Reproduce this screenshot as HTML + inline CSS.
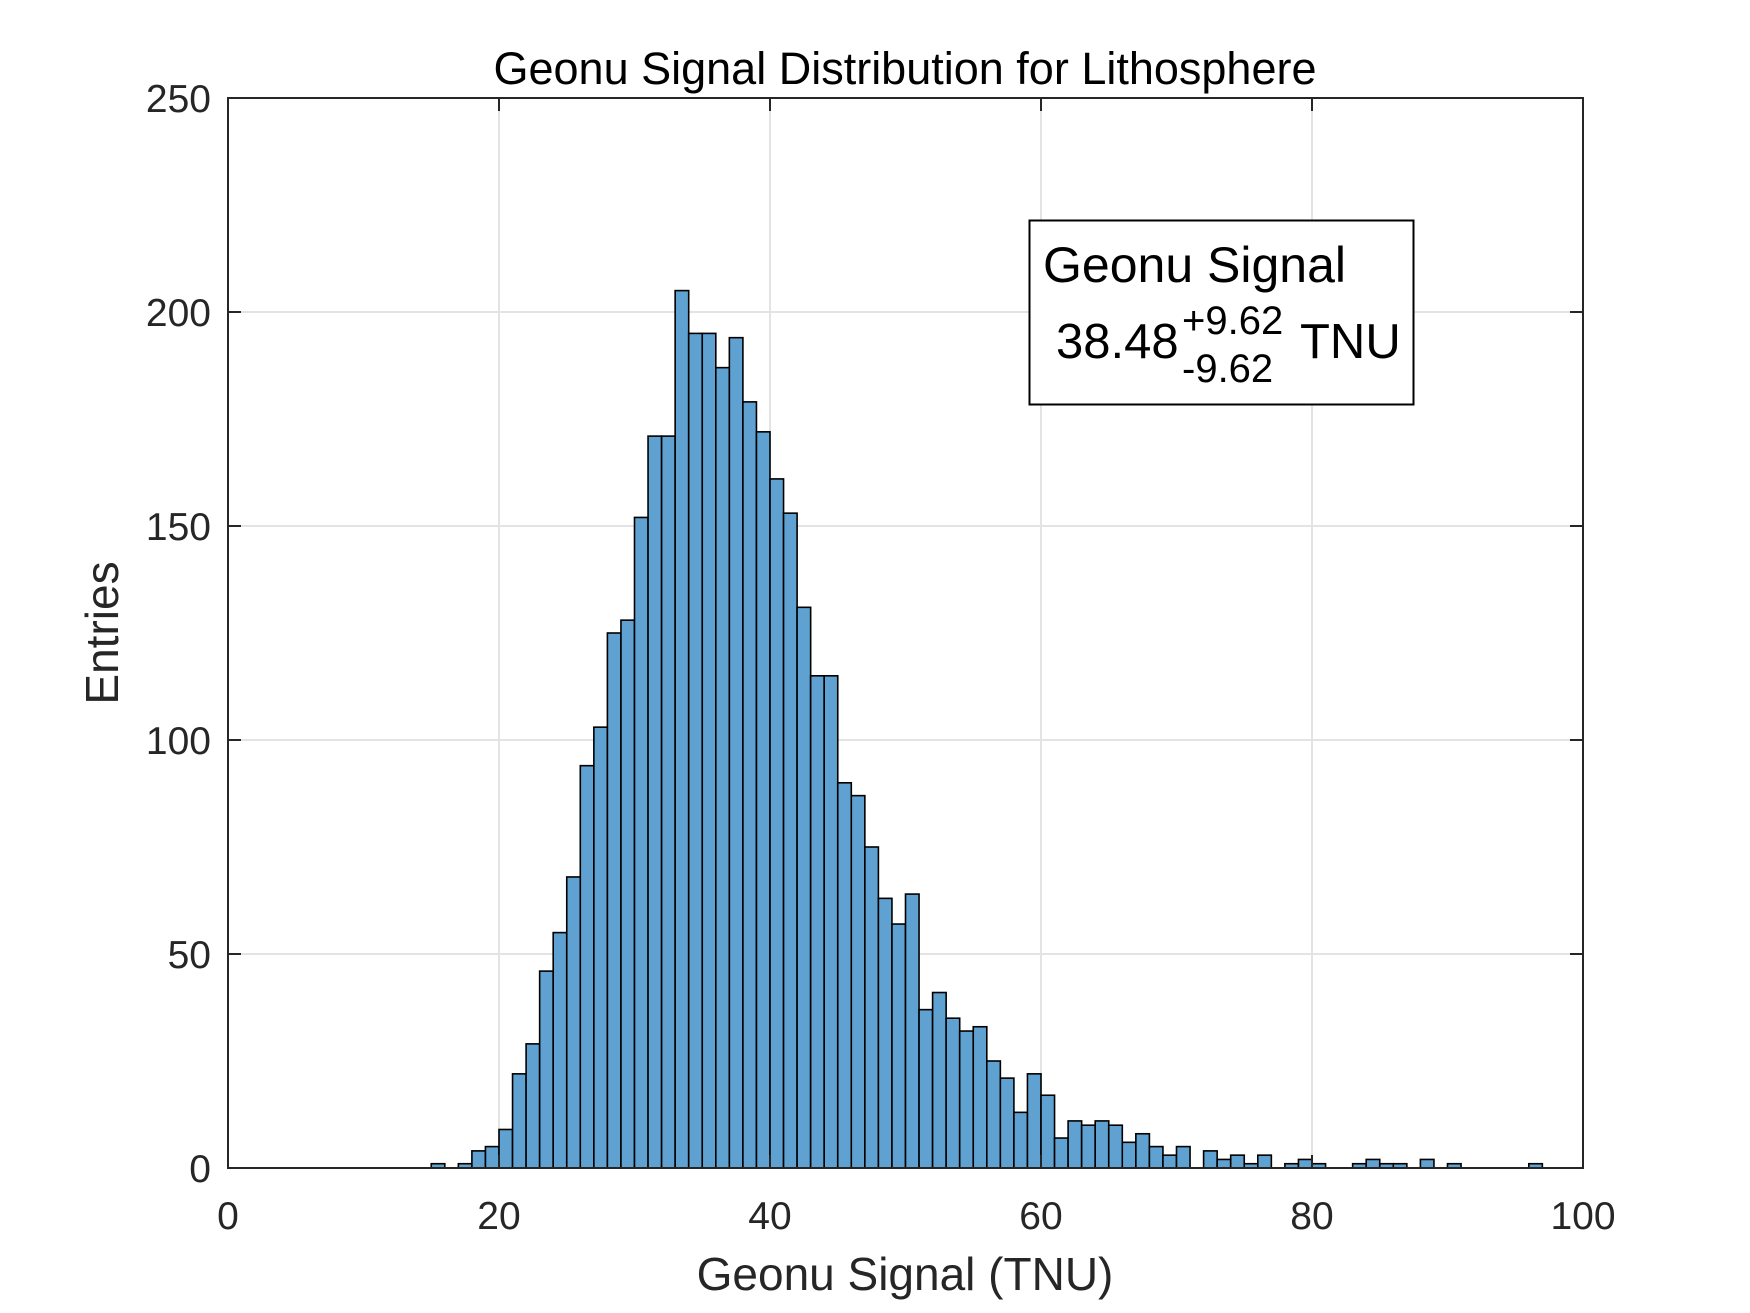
<!DOCTYPE html>
<html><head><meta charset="utf-8"><style>
html,body{margin:0;padding:0;background:#fff;}
svg{display:block;font-family:"Liberation Sans",Arial,sans-serif;}
</style></head><body>
<svg id="chart" width="1750" height="1313" viewBox="0 0 1750 1313" xmlns="http://www.w3.org/2000/svg">
<rect width="1750" height="1313" fill="#fff"/>
<g id="grid"></g>
<g id="bars"></g>
<g id="axes"></g>
<text x="905" y="84" font-size="45" text-anchor="middle" fill="#000">Geonu Signal Distribution for Lithosphere</text>
<text x="905" y="1290" font-size="46" text-anchor="middle" fill="#262626">Geonu Signal (TNU)</text>
<text transform="translate(118,633) rotate(-90)" font-size="46" text-anchor="middle" fill="#262626">Entries</text>
<g>
<rect x="1029.5" y="220.5" width="384" height="184" fill="#fff" stroke="#000" stroke-width="2"/>
<text x="1043" y="282" font-size="50" fill="#000">Geonu Signal</text>
<text x="1056" y="358" font-size="49" fill="#000">38.48</text>
<text x="1182" y="334" font-size="40" fill="#000">+9.62</text>
<text x="1182" y="382" font-size="40" fill="#000">-9.62</text>
<text x="1300" y="358" font-size="49" fill="#000">TNU</text>
</g>
</svg>
<script>
const binStart = 15;
const binWidth = 1;
const counts = [1,0,1,4,5,9,22,29,46,55,68,94,103,125,128,152,171,171,205,195,195,187,194,179,172,161,153,131,115,115,90,87,75,63,57,64,37,41,35,32,33,25,21,13,22,17,7,11,10,11,10,6,8,5,3,5,0,4,2,3,1,3,0,1,2,1,0,0,1,2,1,1,0,2,0,1,0,0,0,0,0,1];
const xTicks = [0,20,40,60,80,100];
const yTicks = [0,50,100,150,200,250];

const L=228,R=1583,T=98,B=1168;
const xMin=0,xMax=100,yMin=0,yMax=250;
const xs=v=>L+(v-xMin)/(xMax-xMin)*(R-L);
const ys=v=>B-(v-yMin)/(yMax-yMin)*(B-T);
const NS='http://www.w3.org/2000/svg';
function mk(tag,attrs,parent){const e=document.createElementNS(NS,tag);for(const k in attrs)e.setAttribute(k,attrs[k]);parent.appendChild(e);return e;}
const grid=document.getElementById('grid'),bars=document.getElementById('bars'),axes=document.getElementById('axes');

xTicks.forEach(t=>{
  const g=mk('line',{x1:xs(t),x2:xs(t),y1:T,y2:B,stroke:'#e3e3e3','stroke-width':2},grid);
  
  
});
yTicks.forEach(t=>{
  const g=mk('line',{x1:L,x2:R,y1:ys(t),y2:ys(t),stroke:'#e3e3e3','stroke-width':2},grid);
  
  
});

counts.forEach((c,i)=>{
  const x0=binStart+i*binWidth;
  if(c<=0){
    const ln=mk('line',{x1:xs(x0),x2:xs(x0+binWidth),y1:B,y2:B,stroke:'#000','stroke-width':1.6},bars);
    
    
    return;
  }
  const r=mk('rect',{x:xs(x0),y:ys(c),width:xs(x0+binWidth)-xs(x0),height:B-ys(c),fill:'#5fa2d1',stroke:'#000','stroke-width':1.6},bars);
  
  
});

const frame=mk('rect',{x:L,y:T,width:R-L,height:B-T,fill:'none',stroke:'#262626','stroke-width':2},axes);



xTicks.forEach(t=>{
  mk('line',{x1:xs(t),x2:xs(t),y1:B,y2:B-13,stroke:'#262626','stroke-width':2},axes);
  mk('line',{x1:xs(t),x2:xs(t),y1:T,y2:T+13,stroke:'#262626','stroke-width':2},axes);
  const tx=mk('text',{x:xs(t),y:1229,'font-size':39,'text-anchor':'middle',fill:'#262626'},axes);
  tx.textContent=t;
  
  
});
yTicks.forEach(t=>{
  mk('line',{x1:L,x2:L+13,y1:ys(t),y2:ys(t),stroke:'#262626','stroke-width':2},axes);
  mk('line',{x1:R,x2:R-13,y1:ys(t),y2:ys(t),stroke:'#262626','stroke-width':2},axes);
  const tx=mk('text',{x:211,y:ys(t)+14,'font-size':39,'text-anchor':'end',fill:'#262626'},axes);
  tx.textContent=t;
  
  
});
</script>
</body></html>
